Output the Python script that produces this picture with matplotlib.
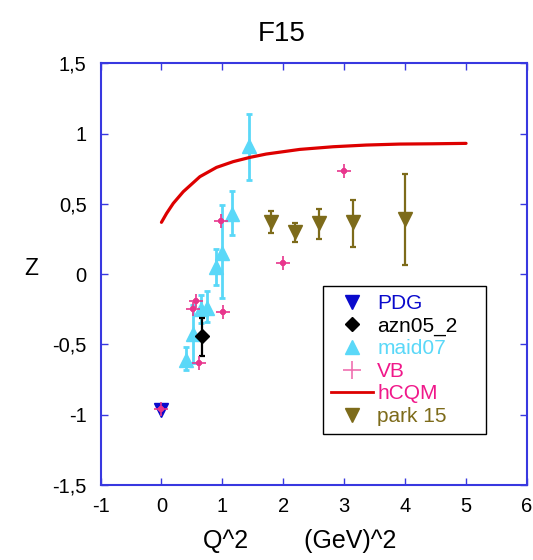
import matplotlib
matplotlib.use("Agg")
import matplotlib.pyplot as plt
from matplotlib.lines import Line2D

plt.rcParams['font.family'] = ['Liberation Sans', 'DejaVu Sans']

# ---- data ----
pdg_x = [0.0]
pdg_y = [-0.97]

azn_x = [0.66]
azn_y = [-0.44]
azn_lo = [0.14]
azn_hi = [0.13]

maid_x = [0.40, 0.52, 0.65, 0.75, 0.90, 1.00, 1.15, 1.44]
maid_y = [-0.61, -0.43, -0.25, -0.24, 0.05, 0.15, 0.43, 0.91]
maid_lo = [0.07, 0.20, 0.10, 0.10, 0.13, 0.32, 0.15, 0.24]
maid_hi = [0.09, 0.21, 0.10, 0.12, 0.13, 0.34, 0.16, 0.23]

vb_x = [0.0, 0.52, 0.57, 0.62, 0.98, 1.01, 2.0, 3.0]
vb_y = [-0.96, -0.25, -0.19, -0.63, 0.38, -0.27, 0.076, 0.73]

hcqm_x = [0.0, 0.085, 0.194, 0.358, 0.631, 0.904, 1.178, 1.45, 1.72,
          2.27, 2.82, 3.36, 3.91, 4.45, 5.0]
hcqm_y = [0.368, 0.432, 0.503, 0.586, 0.693, 0.759, 0.800, 0.830, 0.854,
          0.887, 0.906, 0.918, 0.925, 0.927, 0.930]

park_x = [1.80, 2.20, 2.59, 3.14, 3.99]
park_y = [0.37, 0.30, 0.36, 0.37, 0.39]
park_lo = [0.08, 0.075, 0.11, 0.18, 0.326]
park_hi = [0.08, 0.065, 0.10, 0.16, 0.32]

x_ticks = [-1, 0, 1, 2, 3, 4, 5, 6]
y_ticks = [-1.5, -1, -0.5, 0, 0.5, 1, 1.5]
y_tick_labels = ['-1,5', '-1', '-0,5', '0', '0,5', '1', '1,5']

# ---- colours ----
c_pdg = '#0a0acc'
c_azn = '#000000'
c_maid = '#5ad8f8'
c_vb = '#e8358c'
c_vb_text = '#f0188a'
c_hcqm = '#dd0000'
c_park = '#7d6b1a'
c_axis = '#3838e0'

fig = plt.figure(figsize=(5.33, 5.6), dpi=100)
ax = fig.add_axes([0.1886, 0.1343, 0.8001, 0.7527])

ax.errorbar(maid_x, maid_y, yerr=[maid_lo, maid_hi], fmt='^', color=c_maid,
            ms=10, elinewidth=2.0, capsize=2.5, capthick=2.0, zorder=3)
ax.errorbar(azn_x, azn_y, yerr=[azn_lo, azn_hi], fmt='D', color=c_azn,
            ms=7, elinewidth=1.6, capsize=2.5, capthick=1.6, zorder=4)
ax.plot(pdg_x, pdg_y, 'v', color=c_pdg, ms=10, zorder=4)
# VB points: thin cross with a heavier centre
ax.plot(vb_x, vb_y, '+', color=c_vb, ms=10, mew=1.2, zorder=5)
ax.plot(vb_x, vb_y, '+', color=c_vb, ms=4.5, mew=2.6, zorder=5)
ax.plot(hcqm_x, hcqm_y, '-', color=c_hcqm, lw=2.3, zorder=6,
        solid_capstyle='round', solid_joinstyle='round')
ax.errorbar(park_x, park_y, yerr=[park_lo, park_hi], fmt='v', color=c_park,
            ms=10, elinewidth=1.6, capsize=2.5, capthick=1.6, zorder=4)

ax.set_xlim(-1, 6)
ax.set_ylim(-1.5, 1.5)
ax.set_xticks(x_ticks)
ax.set_xticklabels([str(t) for t in x_ticks])
ax.set_yticks(y_ticks)
ax.set_yticklabels(y_tick_labels)

for sp in ax.spines.values():
    sp.set_color(c_axis)
    sp.set_linewidth(1.5)
ax.tick_params(direction='in', top=True, right=True, length=5, width=1,
               color=c_axis, labelsize=14.5, labelcolor='black')
ax.tick_params(axis='y', pad=10)
ax.tick_params(axis='x', pad=9)

fig.text(282 / 533, 1 - 34 / 560, 'F15', ha='center', va='center', fontsize=20)
fig.text(300 / 533, 1 - 541 / 560, 'Q^2        (GeV)^2', ha='center', va='center',
         fontsize=18)
fig.text(31 / 533, 1 - 268 / 560, 'Z', ha='center', va='center', fontsize=16.5)

handles = [
    Line2D([], [], ls='none', marker='v', color=c_pdg, ms=10),
    Line2D([], [], ls='none', marker='D', color=c_azn, ms=7),
    Line2D([], [], ls='none', marker='^', color=c_maid, ms=10),
    Line2D([], [], ls='none', marker='+', color='#f070b0', ms=13, mew=1.2),
    Line2D([], [], ls='-', color=c_hcqm, lw=2),
    Line2D([], [], ls='none', marker='v', color=c_park, ms=10),
]
labels = ['PDG', 'azn05_2', 'maid07', 'VB', 'hCQM', 'park 15']
text_colors = [c_pdg, c_azn, c_maid, c_vb_text, c_vb_text, c_park]

leg = ax.legend(handles, labels, loc='lower left',
                bbox_to_anchor=(0.522, 0.12, 0.382, 0.356), mode='expand',
                fontsize=15, frameon=True, fancybox=False, framealpha=1,
                edgecolor='black', borderaxespad=0, borderpad=0.4,
                handlelength=2.0, handletextpad=0.2, labelspacing=0.17)
leg.get_frame().set_linewidth(1.0)
for txt, col in zip(leg.get_texts(), text_colors):
    txt.set_color(col)

fig.savefig('out.png', dpi=100)
